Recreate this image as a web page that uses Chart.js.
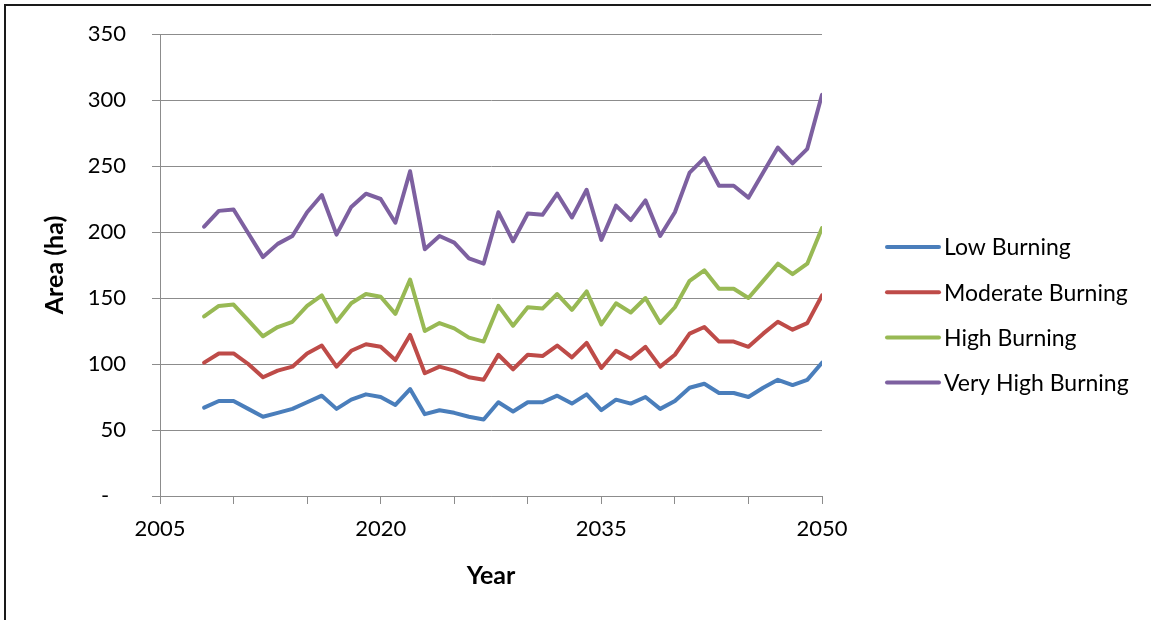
<!DOCTYPE html>
<html>
<head>
<meta charset="utf-8">
<script src="https://cdn.jsdelivr.net/npm/chart.js@4.4.1/dist/chart.umd.min.js"></script>
<style>
  html, body { margin: 0; padding: 0; background: #ffffff; }
  #wrap { width: 1151px; height: 620px; position: relative; }
</style>
</head>
<body>
<div id="wrap"><canvas id="chart" width="1151" height="620"></canvas></div>
<script>
// Burned area projections by burning class, 2008–2050
const years = [2008, 2009, 2010, 2011, 2012, 2013, 2014, 2015, 2016, 2017,
               2018, 2019, 2020, 2021, 2022, 2023, 2024, 2025, 2026, 2027,
               2028, 2029, 2030, 2031, 2032, 2033, 2034, 2035, 2036, 2037,
               2038, 2039, 2040, 2041, 2042, 2043, 2044, 2045, 2046, 2047,
               2048, 2049, 2050];

const lowBurning = [67, 72, 72, 66, 60, 63, 66, 71, 76, 66,
                    73, 77, 75, 69, 81, 62, 65, 63, 60, 58,
                    71, 64, 71, 71, 76, 70, 77, 65, 73, 70,
                    75, 66, 72, 82, 85, 78, 78, 75, 82, 88,
                    84, 88, 101];

const moderateBurning = [101, 108, 108, 100, 90, 95, 98, 108, 114, 98,
                         110, 115, 113, 103, 122, 93, 98, 95, 90, 88,
                         107, 96, 107, 106, 114, 105, 116, 97, 110, 104,
                         113, 98, 107, 123, 128, 117, 117, 113, 123, 132,
                         126, 131, 152];

const highBurning = [136, 144, 145, 133, 121, 128, 132, 144, 152, 132,
                     146, 153, 151, 138, 164, 125, 131, 127, 120, 117,
                     144, 129, 143, 142, 153, 141, 155, 130, 146, 139,
                     150, 131, 143, 163, 171, 157, 157, 150, 163, 176,
                     168, 176, 203];

const veryHighBurning = [204, 216, 217, 199, 181, 191, 197, 215, 228, 198,
                         219, 229, 225, 207, 246, 187, 197, 192, 180, 176,
                         215, 193, 214, 213, 229, 211, 232, 194, 220, 209,
                         224, 197, 215, 245, 256, 235, 235, 226, 245, 264,
                         252, 263, 304];

const seriesNames = ['Low Burning', 'Moderate Burning', 'High Burning', 'Very High Burning'];
const seriesColors = ['#4A7EBB', '#BE4B48', '#98B954', '#7D60A0'];
const seriesValues = [lowBurning, moderateBurning, highBurning, veryHighBurning];

const xLabelYears = [2005, 2020, 2035, 2050];

const FONT = 'Lato, "Open Sans", "DejaVu Sans", sans-serif';
const GRID = '#8c8c8c';

const datasets = seriesNames.map((name, i) => ({
  label: name,
  data: years.map((yr, j) => ({ x: yr, y: seriesValues[i][j] })),
  borderColor: seriesColors[i],
  backgroundColor: seriesColors[i],
  borderWidth: 4,
  pointRadius: 0,
  tension: 0,
  borderJoinStyle: 'round',
  borderCapStyle: 'round',
  fill: false
}));

// page frame and white background
const framePlugin = {
  id: 'frame',
  beforeDraw(chart) {
    const ctx = chart.ctx;
    ctx.save();
    ctx.fillStyle = '#ffffff';
    ctx.fillRect(0, 0, chart.width, chart.height);
    ctx.strokeStyle = '#1a1a1a';
    ctx.lineWidth = 2;
    ctx.beginPath();
    ctx.moveTo(5, chart.height);
    ctx.lineTo(5, 5);
    ctx.lineTo(chart.width, 5);
    ctx.stroke();
    ctx.restore();
  }
};

// legend column to the right of the plot
const sideLegend = {
  id: 'sideLegend',
  afterDraw(chart) {
    const ctx = chart.ctx;
    const x0 = 887, lineLen = 52, gap = 5, top = 247, step = 45.2;
    ctx.save();
    ctx.font = '23px ' + FONT;
    ctx.textBaseline = 'middle';
    ctx.textAlign = 'left';
    chart.data.datasets.forEach((ds, i) => {
      const y = top + i * step;
      ctx.strokeStyle = ds.borderColor;
      ctx.lineWidth = 4;
      ctx.lineCap = 'round';
      ctx.beginPath();
      ctx.moveTo(x0, y);
      ctx.lineTo(x0 + lineLen, y);
      ctx.stroke();
      ctx.fillStyle = '#000000';
      ctx.fillText(ds.label, x0 + lineLen + gap, y + 1);
    });
    ctx.restore();
  }
};

new Chart(document.getElementById('chart'), {
  type: 'line',
  data: { datasets },
  options: {
    responsive: false,
    animation: false,
    events: [],
    layout: { padding: { left: 36, right: 329, top: 34, bottom: 25 } },
    plugins: {
      legend: { display: false },
      tooltip: { enabled: false }
    },
    scales: {
      x: {
        type: 'linear',
        min: 2005,
        max: 2050,
        afterFit(scale) { scale.height = 99; },
        afterBuildTicks(scale) {
          const t = [];
          for (let v = 2005; v <= 2050; v += 5) t.push({ value: v });
          scale.ticks = t;
        },
        ticks: {
          autoSkip: false,
          maxRotation: 0,
          padding: 12,
          color: '#000000',
          font: { family: FONT, size: 22 },
          callback: (v) => xLabelYears.includes(v) ? String(v) : ''
        },
        grid: {
          drawOnChartArea: false,
          drawTicks: true,
          tickLength: 8,
          color: GRID,
          lineWidth: 1
        },
        border: { display: true, color: GRID, width: 1 },
        title: {
          display: true,
          text: 'Year',
          color: '#000000',
          font: { family: FONT, size: 25, weight: 'bold' },
          padding: { top: 4, bottom: 4 }
        }
      },
      y: {
        min: 0,
        max: 350,
        afterFit(scale) {
          scale.width = 124;
          // the wide label gap should not push the plot top down
          scale.paddingTop = 0;
          scale.paddingBottom = 0;
        },
        ticks: {
          stepSize: 50,
          padding: 26,
          color: '#000000',
          font: { family: FONT, size: 22 },
          callback: (v) => v === 0 ? '-   ' : String(v)
        },
        grid: {
          color: GRID,
          lineWidth: 1,
          tickLength: 8,
          drawTicks: true
        },
        border: { display: true, color: GRID, width: 1 },
        title: {
          display: true,
          text: 'Area (ha)',
          color: '#000000',
          font: { family: FONT, size: 25, weight: 'bold' },
          padding: { top: 4, bottom: 4 }
        }
      }
    }
  },
  plugins: [framePlugin, sideLegend]
});
</script>
</body>
</html>
